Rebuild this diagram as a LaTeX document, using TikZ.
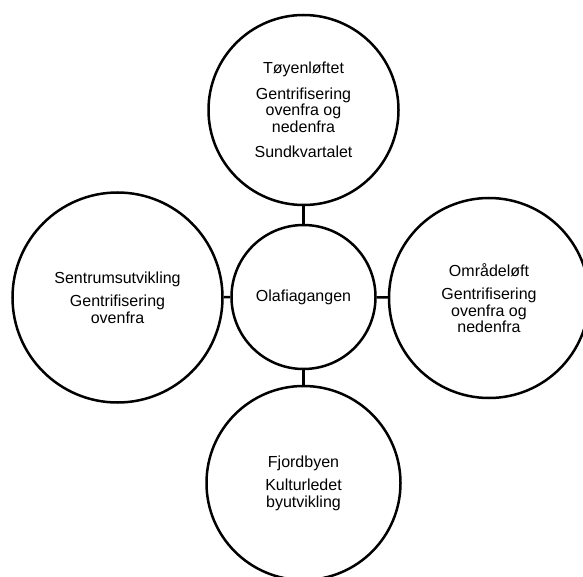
\documentclass[tikz,border=0pt]{standalone}
\usepackage{fontspec}
\setmainfont{Liberation Sans}
\begin{document}
\begin{tikzpicture}[x=1bp,y=-1bp,
  bubble/.style={draw=black, line width=2.5bp, circle, inner sep=0pt, align=center,
    font=\fontsize{16bp}{16.5bp}\selectfont},
  link/.style={draw=black, line width=2.5bp}]
\useasboundingbox (0,0) rectangle (583,577);
\node[bubble, minimum size=144bp] (mid) at (303.5,297) {Olafiagangen};
\node[bubble, minimum size=190bp] (top) at (303.5,110) {Tøyenløftet\\[9bp]Gentrifisering\\ovenfra og\\nedenfra\\[9bp]Sundkvartalet};
\node[bubble, minimum size=210bp] (left) at (117.5,297.5) {Sentrumsutvikling\\[7bp]Gentrifisering\\ovenfra};
\node[bubble, minimum size=200bp] (right) at (489,298) {Områdeløft\\[7bp]Gentrifisering\\ovenfra og\\nedenfra};
\node[bubble, minimum size=194bp] (bottom) at (303.5,483) {Fjordbyen\\[7bp]Kulturledet\\byutvikling};
\draw[link] (top) -- (mid);
\draw[link] (mid) -- (bottom);
\draw[link] (left) -- (mid);
\draw[link] (mid) -- (right);
\end{tikzpicture}
\end{document}
